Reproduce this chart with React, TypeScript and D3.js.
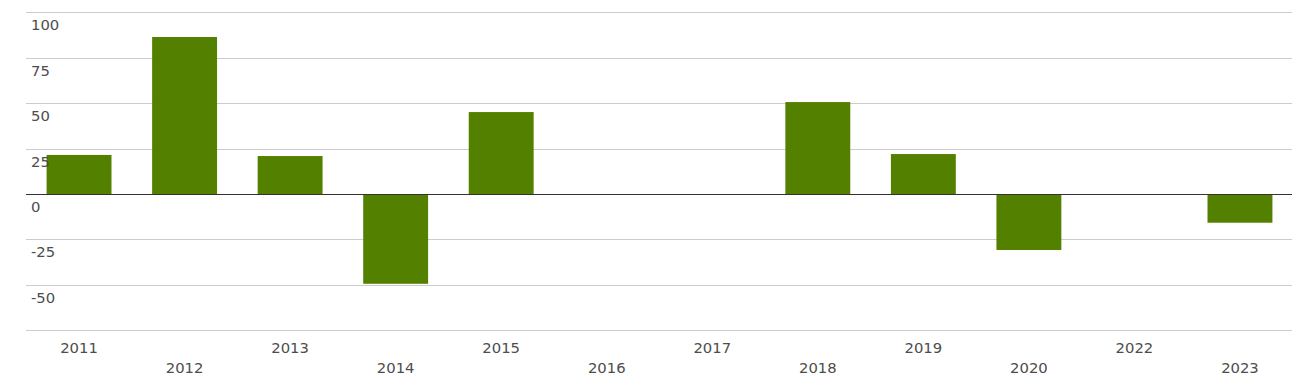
import React from "react";
import * as d3 from "d3";

const categories = ["2011", "2012", "2013", "2014", "2015", "2016", "2017", "2018", "2019", "2020", "2022", "2023"];
const values = [21.5, 86.4, 20.9, -49.4, 45.1, 0, 0, 50.6, 22, -30.8, 0, -15.8];
const yTicks = [100, 75, 50, 25, 0, -25, -50, -75];
const yLabels = [100, 75, 50, 25, 0, -25, -50];

const W = 1293;
const H = 384;
const left = 26;
const right = 1292;
const top = 12.3;
const bottom = 330.3;

export default function App() {
  const x = d3.scaleBand<string>().domain(categories).range([left, right + 1]).paddingInner(0.385).paddingOuter(0.195);
  const y = d3.scaleLinear().domain([-75, 100]).range([bottom, top]);
  const font = "'DejaVu Sans', sans-serif";
  return (
    <svg width={W} height={H} style={{ position: "absolute", left: 0, top: 0, display: "block" }}>
      {yTicks.map((t) => (
        <line key={t} x1={left} x2={right} y1={Math.round(y(t)) + 0.5} y2={Math.round(y(t)) + 0.5} stroke="#cccccc" strokeWidth={1} />
      ))}
      {categories.map((c, i) => {
        const v = values[i];
        if (v === 0) return null;
        const y0 = y(0);
        const y1 = y(v);
        return (
          <rect key={c} x={x(c)} width={x.bandwidth()} y={Math.min(y0, y1)} height={Math.abs(y1 - y0)} fill="#548000" />
        );
      })}
      <line x1={left} x2={right} y1={Math.round(y(0)) + 0.5} y2={Math.round(y(0)) + 0.5} stroke="#333333" strokeWidth={1} />
      {yLabels.map((t) => (
        <text key={t} x={31} y={y(t) + 18} fontFamily={font} fontSize={14.8} fill="#4d4d4d">
          {t}
        </text>
      ))}
      {categories.map((c, i) => (
        <text key={c} x={(x(c) as number) + x.bandwidth() / 2} y={i % 2 === 0 ? 353 : 373} textAnchor="middle" fontFamily={font} fontSize={14.8} fill="#4d4d4d">
          {c}
        </text>
      ))}
    </svg>
  );
}
